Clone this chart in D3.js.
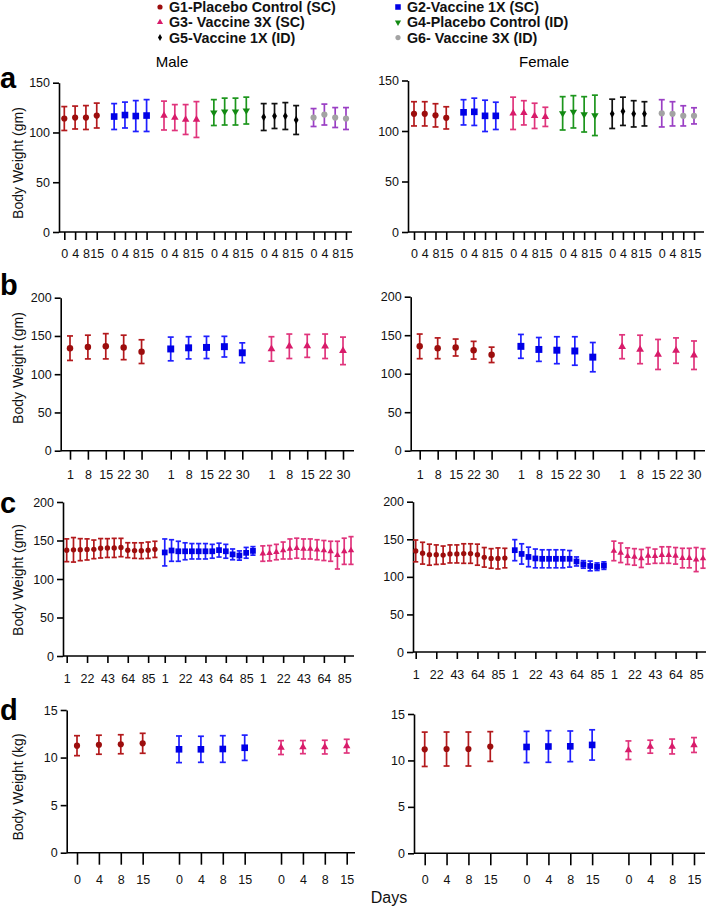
<!DOCTYPE html>
<html>
<head>
<meta charset="utf-8">
<script src="https://cdn.jsdelivr.net/npm/d3@7"></script>
<style>
body { margin: 0; background: #fff; }
svg { display: block; font-family: "Liberation Sans", Arial, sans-serif; }
</style>
</head>
<body>
<script>
// groups + legend
const groupNames = ["G1-Placebo Control (SC)", "G2-Vaccine 1X (SC)", "G3- Vaccine 3X (SC)",
                    "G4-Placebo Control (ID)", "G5-Vaccine 1X (ID)", "G6- Vaccine 3X (ID)"];
const barColors = ["#b3191c", "#1f1fff", "#e0347c", "#1d961d", "#111111", "#9a3fc4"];
const dotColors = ["#9c0d0d", "#0000e6", "#d81b6a", "#138a13", "#000000", "#a3a3a3"];

// days on the x axis
const daysA = [0, 4, 8, 15];
const daysB = [1, 8, 15, 22, 30];
const daysC = [1, 8, 15, 22, 29, 36, 43, 50, 57, 64, 71, 78, 85, 92];
const ticksC = [1, 22, 43, 64, 85];
const daysD = [0, 4, 8, 15];

// panel a (gm), 6 groups
const aMaleMean = [[114, 115, 115, 117], [116, 117.5, 116.5, 117], [117, 115, 113, 113],
                   [120, 121, 121, 122], [115.5, 116.5, 116.5, 112.5], [115, 118, 115, 114]];
const aMaleSD = [[12, 11.5, 12, 12.5], [13, 13, 15.5, 16], [14.5, 13, 15, 18],
                 [13, 13.5, 13.5, 13.5], [13.5, 12.5, 13.5, 14.5], [9, 10.5, 10, 11]];
const aFemaleMean = [[117, 117, 115.5, 113], [118.5, 119, 115, 115], [117.5, 118, 115, 114],
                     [117.5, 119, 116.5, 115.5], [117, 119.5, 117, 117], [117.5, 117, 115, 115]];
const aFemaleSD = [[12, 12, 11.5, 11], [12.5, 13.5, 15.5, 13.5], [16, 12, 12.5, 9.5],
                   [16.5, 16, 17.5, 20], [14.5, 14, 13, 12], [13.5, 12, 10, 8]];

// panel b (gm), 3 groups
const bMaleMean = [[134, 135.5, 136.5, 135, 129.5], [133, 134.5, 135, 136, 128], [133, 136.5, 137, 136.5, 130.5]];
const bMaleSD = [[16, 15.5, 16.5, 16, 15.5], [15.5, 14.5, 14.5, 13.5, 13], [16, 16, 15, 16, 18]];
const bFemaleMean = [[135.5, 133, 134, 130.5, 124.5], [135.5, 131.5, 130.5, 129.5, 121.5], [135, 131.5, 125, 130, 124]];
const bFemaleSD = [[16, 13.5, 11, 11.5, 10], [15.5, 15.5, 17.5, 18.5, 19], [15.5, 18.5, 19.5, 16.5, 18.5]];

// panel c (gm), 3 groups, weekly
const cMaleMean = [[137.3, 137.9, 138.1, 138.4, 138.5, 139.9, 140.2, 140.4, 140.9, 137.4, 136.9, 136.7, 137.4, 138.5],
                   [134.5, 137, 136, 136, 136, 136, 136, 136, 137.5, 136, 132, 130.5, 134, 136.5],
                   [133, 133.5, 135, 137, 139, 140, 139, 139, 138, 137, 136, 131, 136, 137]];
const cMaleSD = [[14.8, 15.9, 14.3, 13.7, 12.1, 12.6, 12.2, 12.4, 11.9, 9.7, 10.1, 10.3, 10.6, 10.5],
                 [17.5, 14, 13, 11, 10, 10, 10, 9, 9, 9, 7, 6, 7, 5.5],
                 [10, 10, 10, 11, 13, 13, 13, 13, 13, 13, 13, 18, 17, 18]];
const cFemaleMean = [[134.5, 131.5, 129.5, 129.5, 129, 130.5, 130.5, 131, 131, 129.5, 126, 124.5, 124.5, 125],
                     [135.5, 130.5, 126.5, 124.5, 124, 124, 124, 124, 124, 120.5, 116.5, 114.5, 113.5, 115],
                     [134.5, 132, 127.5, 126.5, 124.5, 128, 127.5, 129, 129, 128, 125, 125, 123, 124.5]];
const cFemaleSD = [[14.5, 14.5, 14, 13, 12, 12, 12, 13, 13, 14, 13, 13, 14, 13],
                   [14, 13.5, 13, 12.5, 12, 12, 12, 12, 11, 6, 5, 6.5, 5, 5],
                   [13, 13, 11, 11, 12, 11, 9.5, 11, 11, 11, 13, 13, 16, 13]];

// panel d (kg), 3 groups
const dMaleMean = [[11.25, 11.35, 11.4, 11.5], [10.87, 10.87, 10.9, 11.03], [11.05, 11.1, 11.1, 11.2]];
const dMaleSD = [[1.05, 1.0, 1.0, 1.05], [1.4, 1.37, 1.4, 1.33], [0.73, 0.69, 0.72, 0.72]];
const dFemaleMean = [[11.2, 11.23, 11.23, 11.5], [11.45, 11.5, 11.52, 11.67], [11.1, 11.48, 11.5, 11.66]];
const dFemaleSD = [[1.85, 1.83, 1.83, 1.6], [1.68, 1.7, 1.65, 1.63], [1.0, 0.7, 0.8, 0.8]];

const W = 707, H = 910;
const svg = d3.select("body").append("svg").attr("width", W).attr("height", H);

const shapeTypes = [d3.symbolCircle, d3.symbolSquare, d3.symbolTriangle, d3.symbolTriangle, d3.symbolDiamond, d3.symbolCircle];
const shapeArea = [30, 44, 24, 24, 20, 30];

function marker(sel, gi, cx, cy, k) {
  sel.append("path")
    .attr("d", d3.symbol().type(shapeTypes[gi]).size(shapeArea[gi] * k)())
    .attr("transform", "translate(" + cx + "," + cy + ")" + (gi === 3 ? " rotate(180)" : ""))
    .attr("fill", dotColors[gi]);
}

function drawPanel(lay, days, tickDays, means, sds, yMax, yTicks, grpIdx) {
  const n = days.length;
  const pos = (gi, i) => gi * (n - 1 + lay.gap) + i;
  const x = d3.scaleLinear().domain([0, pos(means.length - 1, n - 1)]).range([lay.x0, lay.x1]);
  const y = d3.scaleLinear().domain([0, yMax]).range([lay.bottom, lay.top]);
  const g = svg.append("g");

  const tickLab = new Map();
  means.forEach((m, gi) => days.forEach((d, i) => { if (tickDays.indexOf(d) >= 0) tickLab.set(pos(gi, i), d); }));
  const xAxis = g.append("g").attr("transform", "translate(0," + lay.bottom + ")")
    .call(d3.axisBottom(x).tickValues([...tickLab.keys()]).tickFormat(v => tickLab.get(v))
      .tickSize(lay.tick).tickPadding(lay.pad));
  xAxis.select(".domain").remove();
  g.append("line").attr("x1", lay.ax).attr("x2", lay.end)
    .attr("y1", lay.bottom).attr("y2", lay.bottom)
    .attr("stroke", "#000").attr("stroke-width", 1.6);

  const yAxis = g.append("g").attr("transform", "translate(" + lay.ax + ",0)")
    .call(d3.axisLeft(y).tickValues(yTicks).tickSize(6).tickSizeOuter(0).tickPadding(3));

  [xAxis, yAxis].forEach(a => {
    a.attr("font-family", null).attr("font-size", null);
    a.selectAll("line, path").attr("stroke", "#000").attr("stroke-width", 1.6);
    a.selectAll("text").attr("font-size", 12.5).attr("fill", "#111");
  });

  means.forEach((m, gi) => {
    const c = grpIdx[gi];
    m.forEach((v, i) => {
      const cx = x(pos(gi, i));
      const lo = y(v - sds[gi][i]), hi = y(v + sds[gi][i]);
      const eb = g.append("g").attr("stroke", barColors[c]).attr("stroke-width", 1.7);
      eb.append("line").attr("x1", cx).attr("x2", cx).attr("y1", lo).attr("y2", hi);
      eb.append("line").attr("x1", cx - lay.cap).attr("x2", cx + lay.cap).attr("y1", lo).attr("y2", lo);
      eb.append("line").attr("x1", cx - lay.cap).attr("x2", cx + lay.cap).attr("y1", hi).attr("y2", hi);
      marker(g, c, cx, y(v), lay.k);
    });
  });
}

// legend
const legendCols = [[0, 2, 4], [1, 3, 5]];
const legendX = [160, 398];
const legendY = [7, 22.3, 37.6];
legendCols.forEach((col, ci) => col.forEach((gi, ri) => {
  marker(svg, gi, legendX[ci], legendY[ri], 0.7);
  svg.append("text").attr("x", legendX[ci] + 9).attr("y", legendY[ri] + 5)
    .attr("font-size", 14.3).attr("font-weight", "bold").attr("fill", "#111")
    .text(groupNames[gi]);
}));

// titles
svg.append("text").attr("x", 172).attr("y", 67).attr("text-anchor", "middle").attr("font-size", 15).text("Male");
svg.append("text").attr("x", 544).attr("y", 67).attr("text-anchor", "middle").attr("font-size", 15).text("Female");

const all6 = [0, 1, 2, 3, 4, 5], first3 = [0, 1, 2];

drawPanel({ax: 59, top: 82.7, bottom: 232, x0: 64.3, x1: 346, end: 352, gap: 1.61, tick: 8, pad: 9, cap: 3, k: 1},
  daysA, daysA, aMaleMean, aMaleSD, 150, [0, 50, 100, 150], all6);
drawPanel({ax: 408, top: 80.5, bottom: 232, x0: 414, x1: 694, end: 704, gap: 1.61, tick: 8, pad: 9, cap: 3, k: 1},
  daysA, daysA, aFemaleMean, aFemaleSD, 150, [0, 50, 100, 150], all6);

drawPanel({ax: 60.7, top: 297.7, bottom: 450.7, x0: 70, x1: 343, end: 354, gap: 1.63, tick: 9, pad: 10, cap: 3, k: 1.1},
  daysB, daysB, bMaleMean, bMaleSD, 200, [0, 50, 100, 150, 200], first3);
drawPanel({ax: 410.7, top: 296.7, bottom: 450.7, x0: 419.7, x1: 694, end: 705, gap: 1.63, tick: 9, pad: 10, cap: 3, k: 1.1},
  daysB, daysB, bFemaleMean, bFemaleSD, 200, [0, 50, 100, 150, 200], first3);

drawPanel({ax: 63, top: 502, bottom: 656, x0: 66.7, x1: 351, end: 354, gap: 1.45, tick: 7, pad: 11, cap: 2.6, k: 0.75},
  daysC, ticksC, cMaleMean, cMaleSD, 200, [0, 50, 100, 150, 200], first3);
drawPanel({ax: 413, top: 501.7, bottom: 652, x0: 415.7, x1: 703, end: 706, gap: 1.45, tick: 7, pad: 11, cap: 2.6, k: 0.75},
  daysC, ticksC, cFemaleMean, cFemaleSD, 200, [0, 50, 100, 150, 200], first3);

drawPanel({ax: 66.7, top: 710, bottom: 852.7, x0: 77, x1: 346.7, end: 355, gap: 1.66, tick: 12, pad: 10, cap: 3, k: 1},
  daysD, daysD, dMaleMean, dMaleSD, 15, [0, 5, 10, 15], first3);
drawPanel({ax: 414, top: 714, bottom: 853.3, x0: 424.7, x1: 694, end: 705, gap: 1.66, tick: 12, pad: 10, cap: 3, k: 1},
  daysD, daysD, dFemaleMean, dFemaleSD, 15, [0, 5, 10, 15], first3);

// y labels and panel letters
const yLabels = [["Body Weight (gm)", 163], ["Body Weight (gm)", 368], ["Body Weight (gm)", 580], ["Body Weight (kg)", 787]];
yLabels.forEach(l => {
  svg.append("text").attr("transform", "translate(23," + l[1] + ") rotate(-90)")
    .attr("text-anchor", "middle").attr("font-size", 14).attr("fill", "#111").text(l[0]);
});
const letters = [["a", 88], ["b", 295], ["c", 513], ["d", 720]];
letters.forEach(l => {
  svg.append("text").attr("x", 0).attr("y", l[1]).attr("font-size", 29).attr("font-weight", "bold").text(l[0]);
});

svg.append("text").attr("x", 389).attr("y", 903).attr("text-anchor", "middle").attr("font-size", 16).attr("fill", "#111").text("Days");
</script>
</body>
</html>
